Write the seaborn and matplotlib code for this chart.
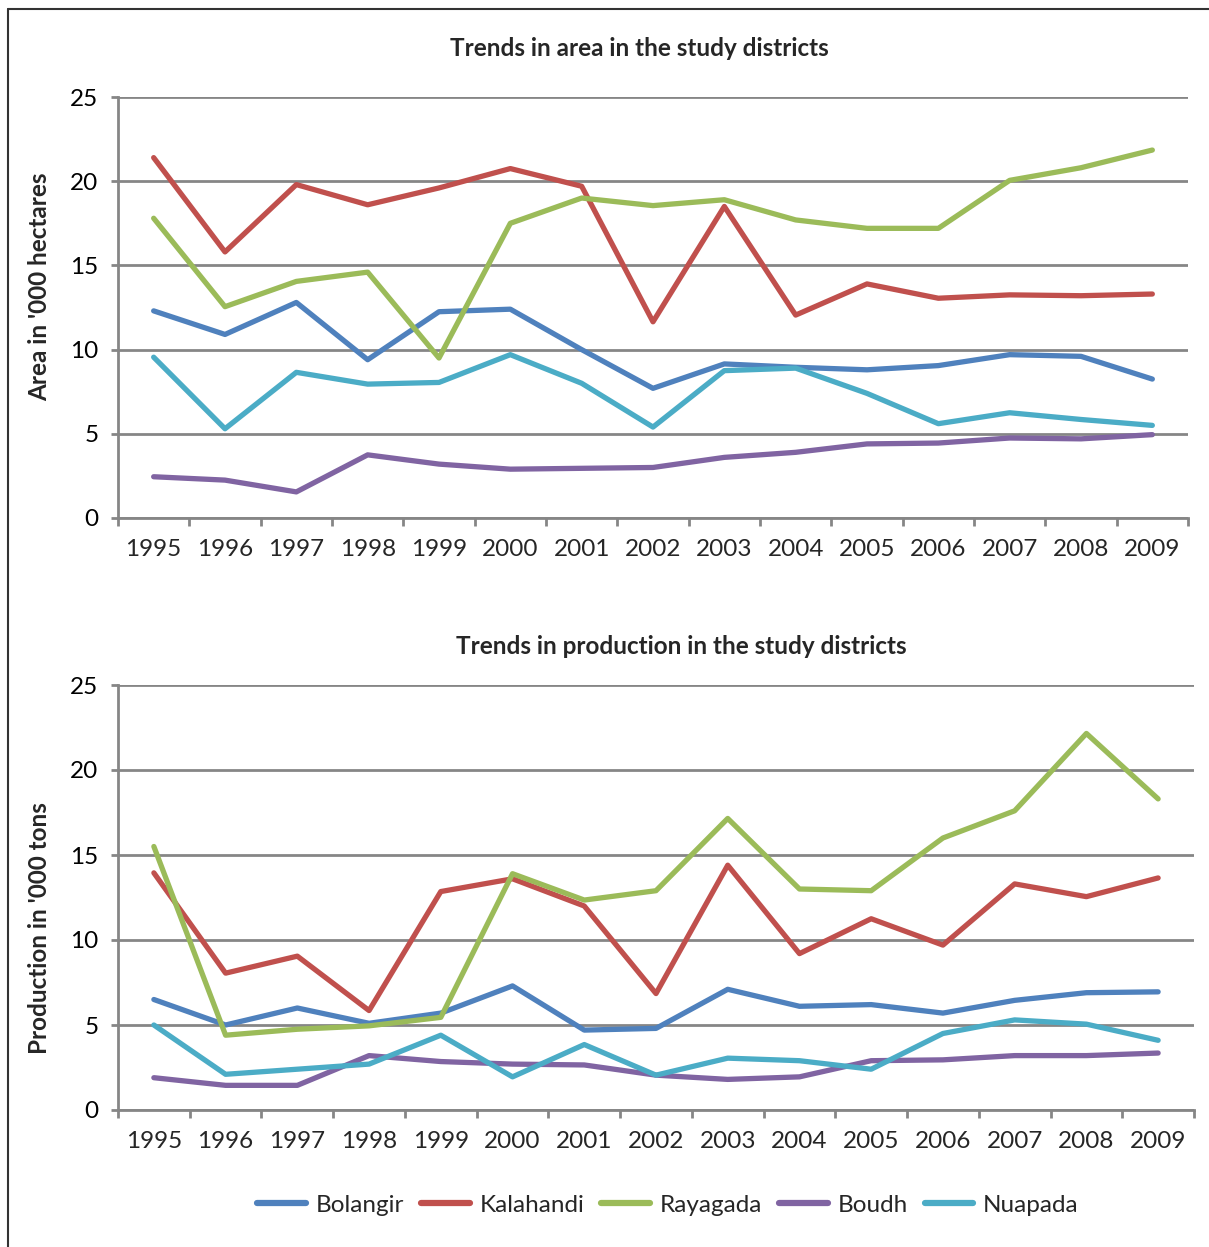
import numpy as np
import pandas as pd
import matplotlib
matplotlib.use("Agg")
import matplotlib.pyplot as plt
from matplotlib.lines import Line2D
import seaborn as sns

years = [str(y) for y in range(1995, 2010)]
districts = ['Bolangir', 'Kalahandi', 'Rayagada', 'Boudh', 'Nuapada']

# area in '000 hectares
area_bolangir = [12.3, 10.9, 12.8, 9.4, 12.25, 12.4, 10.0, 7.7, 9.15, 8.95, 8.8, 9.05, 9.7, 9.6, 8.25]
area_kalahandi = [21.4, 15.8, 19.8, 18.6, 19.6, 20.75, 19.7, 11.65, 18.5, 12.05, 13.9, 13.05, 13.25, 13.2, 13.3]
area_rayagada = [17.8, 12.55, 14.05, 14.6, 9.5, 17.5, 19.0, 18.55, 18.9, 17.7, 17.2, 17.2, 20.05, 20.8, 21.85]
area_boudh = [2.45, 2.25, 1.55, 3.75, 3.2, 2.9, 2.95, 3.0, 3.6, 3.9, 4.4, 4.45, 4.75, 4.7, 4.95]
area_nuapada = [9.55, 5.3, 8.65, 7.95, 8.05, 9.7, 8.0, 5.4, 8.75, 8.9, 7.4, 5.6, 6.25, 5.85, 5.5]

# production in '000 tons
prod_bolangir = [6.5, 5.0, 6.0, 5.1, 5.7, 7.3, 4.7, 4.8, 7.1, 6.1, 6.2, 5.7, 6.45, 6.9, 6.95]
prod_kalahandi = [13.95, 8.05, 9.05, 5.85, 12.85, 13.6, 12.0, 6.85, 14.4, 9.2, 11.25, 9.7, 13.3, 12.55, 13.65]
prod_rayagada = [15.5, 4.4, 4.75, 4.95, 5.45, 13.9, 12.35, 12.9, 17.15, 13.0, 12.9, 16.0, 17.6, 22.15, 18.3]
prod_boudh = [1.9, 1.45, 1.45, 3.2, 2.85, 2.7, 2.65, 2.05, 1.8, 1.95, 2.9, 2.95, 3.2, 3.2, 3.35]
prod_nuapada = [5.0, 2.1, 2.4, 2.7, 4.4, 1.95, 3.85, 2.05, 3.05, 2.9, 2.4, 4.5, 5.3, 5.05, 4.1]

colors = {'Bolangir': '#4F81BD', 'Kalahandi': '#C0504D', 'Rayagada': '#9BBB59',
          'Boudh': '#8064A2', 'Nuapada': '#4BACC6'}
grid_col = '#868686'


def to_long(series):
    rows = []
    for name, vals in zip(districts, series):
        for yr, v in zip(years, vals):
            rows.append({'year': yr, 'district': name, 'value': v})
    return pd.DataFrame(rows)


area = to_long([area_bolangir, area_kalahandi, area_rayagada, area_boudh, area_nuapada])
prod = to_long([prod_bolangir, prod_kalahandi, prod_rayagada, prod_boudh, prod_nuapada])

sns.set_style('white')
plt.rcParams['font.family'] = ['Lato', 'DejaVu Sans']

W, H = 1209, 1247
fig = plt.figure(figsize=(W / 100, H / 100), dpi=100)


def px_axes(x0, x1, y0, y1):
    return fig.add_axes([x0 / W, 1 - y1 / H, (x1 - x0) / W, (y1 - y0) / H])


def style_axis(ax):
    ax.set_xlim(-0.5, len(years) - 0.5)
    ax.set_ylim(0, 25)
    ax.set_yticks([0, 5, 10, 15, 20, 25])
    ax.set_xticks(range(len(years)))
    ax.set_xticklabels(years)
    ax.set_xticks(np.arange(-0.5, len(years), 1.0), minor=True)
    ax.yaxis.grid(True, color=grid_col, lw=2)
    ax.xaxis.grid(False)
    ax.set_axisbelow(True)
    for s in ['top', 'right']:
        ax.spines[s].set_visible(False)
    for s in ['left', 'bottom']:
        ax.spines[s].set_color(grid_col)
        ax.spines[s].set_linewidth(2)
    ax.tick_params(axis='y', left=True, length=5, width=2, color=grid_col,
                   labelsize=17.5, pad=9, labelcolor='black')
    ax.tick_params(axis='x', which='major', bottom=True, length=0, labelsize=17.5, pad=15)
    ax.tick_params(axis='x', which='minor', bottom=True, length=6, width=2, color=grid_col)
    ax.set_xlabel('')
    ax.set_ylabel('')


ax1 = px_axes(118, 1188, 97, 518)
sns.lineplot(data=area, x='year', y='value', hue='district', palette=colors,
             sort=False, lw=3.8, legend=False, ax=ax1)
style_axis(ax1)

ax2 = px_axes(118, 1194, 685, 1110)
sns.lineplot(data=prod, x='year', y='value', hue='district', palette=colors,
             sort=False, lw=3.8, legend=False, ax=ax2)
style_axis(ax2)
for ln in ax1.lines + ax2.lines:
    ln.set_solid_capstyle('round')

fig.text(639 / W, 1 - 48 / H, 'Trends in area in the study districts',
         ha='center', va='center', fontsize=17.5, fontweight='bold')
fig.text(681 / W, 1 - 647 / H, 'Trends in production in the study districts',
         ha='center', va='center', fontsize=17.5, fontweight='bold')
fig.text(40 / W, 1 - 287 / H, "Area in '000 hectares", rotation=90,
         ha='center', va='center', fontsize=17.5, fontweight='bold')
fig.text(40 / W, 1 - 928 / H, "Production in '000 tons", rotation=90,
         ha='center', va='center', fontsize=17.5, fontweight='bold')

handles = [Line2D([0], [0], color=colors[d], lw=4.5, solid_capstyle='round') for d in districts]
fig.legend(handles, districts, loc='center', bbox_to_anchor=(668 / W, 1 - 1205 / H),
           ncol=5, frameon=False, fontsize=17.5, handlelength=2.0, columnspacing=0.7,
           handletextpad=0.4)

# outer frame (top and left edges visible)
fig.add_artist(Line2D([8 / W, 1], [1 - 9 / H, 1 - 9 / H], color='#333333', lw=1.5))
fig.add_artist(Line2D([8 / W, 8 / W], [0, 1 - 9 / H], color='#333333', lw=1.5))

fig.savefig('out.png', dpi=100)
